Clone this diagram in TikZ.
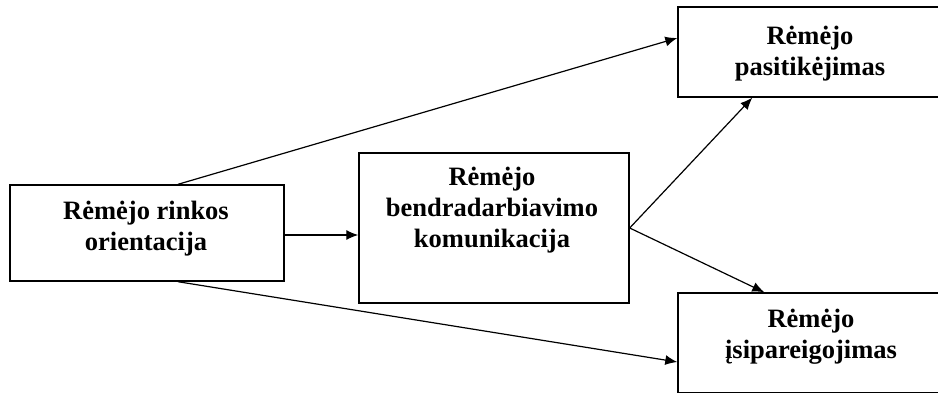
\documentclass[tikz,border=0pt]{standalone}
\usepackage{fontspec}
\setmainfont{Liberation Serif}
\usetikzlibrary{arrows.meta}
\begin{document}
\begin{tikzpicture}[x=1pt,y=1pt,
  box/.style={draw=black,line width=1.4pt,rectangle,inner sep=0pt},
  lbl/.style={inner sep=0pt,align=center,anchor=north,font=\bfseries\fontsize{26.5}{31}\selectfont},
  arr/.style={line width=1.2pt,-{Latex[length=12pt,width=10pt]}}]
\useasboundingbox (0,0) rectangle (938,392);
\clip (0,0) rectangle (938,392);
% boxes
\node[box,minimum width=274pt,minimum height=96pt] (A) at (147,159) {};
\node[box,minimum width=270pt,minimum height=150pt] (B) at (494,164) {};
\node[box,minimum width=266pt,minimum height=90pt] (C) at (811,340) {};
\node[box,minimum width=266pt,minimum height=100pt] (D) at (811,49) {};
% labels
\node[lbl] (tA) at (146,191) {Rėmėjo rinkos\\orientacija};
\node[lbl] (tB) at (492,225) {Rėmėjo\\bendradarbiavimo\\komunikacija};
\node[lbl] (tC) at (810,366) {Rėmėjo\\pasitikėjimas};
\node[lbl] (tD) at (811,83) {Rėmėjo\\įsipareigojimas};
% connectors
\draw[arr] ([xshift=31pt]A.north) -- ([yshift=14pt]C.west);
\draw[arr] ([xshift=31pt]A.south) -- ([yshift=-19pt]D.west);
\draw[arr] ([yshift=-2pt]A.east) -- ([yshift=-2pt]A.east -| B.west);
\draw[arr] (B.east) -- ([xshift=75pt]C.south west);
\draw[arr] (B.east) -- ([xshift=87pt]D.north west);
\end{tikzpicture}
\end{document}
